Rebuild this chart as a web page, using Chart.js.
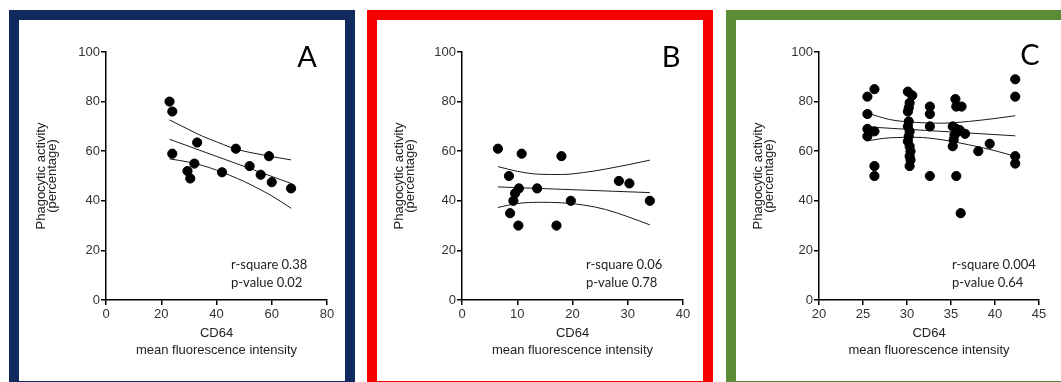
<!DOCTYPE html>
<html>
<head>
<meta charset="utf-8">
<script src="https://cdn.jsdelivr.net/npm/chart.js@4.4.1/dist/chart.umd.min.js"></script>
<style>
  html, body { margin: 0; padding: 0; background: #fff; }
  body { width: 1061px; height: 382px; overflow: hidden; position: relative; }
  .panel { position: absolute; top: 10px; width: 326px; height: 361px; border: 10px solid; background: #fff; }
  .panel canvas { display: block; }
</style>
</head>
<body>
<div class="panel" style="left:9px; border-color:#102a5e"><canvas id="chartA" width="326" height="361"></canvas></div>
<div class="panel" style="left:367px; border-color:#f60000"><canvas id="chartB" width="326" height="361"></canvas></div>
<div class="panel" style="left:726px; border-color:#5b8c36"><canvas id="chartC" width="326" height="361"></canvas></div>
<script>
// Panel A
const aCd64  = [23, 24, 24, 33, 32, 29.5, 30.5, 42, 47, 52, 59, 56, 60, 67];
const aPhago = [80, 76, 59, 63.5, 55, 52, 49, 51.5, 61, 54, 58, 50.5, 47.5, 45];
const aFitX  = [23, 67];
const aFitY  = [64.8, 47];
const aBandX = [23, 30, 35, 40, 45, 50, 55, 60, 67];
const aUpper = [72.6, 68.7, 66, 63.8, 61.6, 60, 58.9, 57.8, 56.5];
const aLower = [56.9, 55.6, 54.2, 52.4, 50.2, 47.8, 45, 42, 37];
const aXAxis = [0, 80, 20];
const aStats = ['r-square 0.38', 'p-value 0.02'];

// Panel B
const bCd64  = [6.5, 10.8, 18, 8.5, 10.3, 9.6, 9.3, 13.6, 8.7, 10.2, 17.1, 19.7, 28.4, 30.3, 34];
const bPhago = [61, 59, 58, 50, 45, 43, 40, 45, 35, 30, 30, 40, 48, 47, 40];
const bFitX  = [6.5, 34];
const bFitY  = [45.6, 43.3];
const bBandX = [6.5, 10, 14, 18, 22, 26, 30, 34];
const bUpper = [53.8, 51.9, 50.7, 50.6, 51.4, 52.8, 54.5, 56.4];
const bLower = [37.3, 38.9, 39.4, 39.2, 38.3, 36.5, 33.6, 30.3];
const bXAxis = [0, 40, 10];
const bStats = ['r-square 0.06', 'p-value 0.78'];

// Panel C
const cCd64  = [25.5, 25.5, 25.5, 25.5, 26.3, 26.3, 26.3, 26.3,
  30.1, 30.6, 30.3, 30.2, 30.1, 30.2, 30.1, 30.3, 30.2, 30.1, 30.3, 30.4, 30.3, 30.4, 30.3,
  32.6, 32.6, 32.6, 32.6,
  35.5, 35.6, 36.2, 35.2, 35.6, 36.0, 35.8, 35.4, 35.3, 35.2, 35.6, 36.1, 36.6,
  38.1, 39.4, 42.3, 42.3, 42.3, 42.3];
const cPhago = [82, 75, 69, 66, 85, 68, 54, 50,
  84, 82.5, 79.5, 77.5, 76, 72, 70, 68, 66, 64, 62, 60, 58, 56.5, 54,
  78, 75, 70, 50,
  81, 78, 78, 70, 69, 68.5, 68, 66.5, 64.5, 62, 50, 35, 67,
  60, 63, 89, 82, 58, 55];
const cFitX  = [25.5, 42.3];
const cFitY  = [69.8, 66.2];
const cBandX = [25.5, 28, 31, 34, 37, 40, 42.3];
const cUpper = [75.4, 72.8, 71.6, 71.3, 72.0, 73.2, 74.3];
const cLower = [64.2, 65.4, 65.6, 64.6, 62.6, 60.2, 57.9];
const cXAxis = [20, 45, 5];
const cStats = ['r-square 0.004', 'p-value 0.64'];

const yAxis = [0, 100, 20];

function pairs(xs, ys) {
  return xs.map((v, i) => ({x: v, y: ys[i]}));
}

// letter + r-square / p-value text
const panelText = {
  id: 'panelText',
  afterDatasetsDraw(chart, args, opts) {
    const {ctx, chartArea} = chart;
    ctx.save();
    ctx.fillStyle = '#000';
    ctx.font = '29px Lato';
    ctx.textAlign = 'center';
    ctx.textBaseline = 'middle';
    ctx.fillText(opts.letter, chartArea.right + opts.letterDx, chartArea.top + opts.letterDy);
    ctx.font = '13px Lato';
    ctx.fillStyle = '#222';
    ctx.textAlign = 'left';
    opts.stats.forEach((t, i) => {
      ctx.fillText(t, chartArea.left + opts.statsDx, chartArea.bottom - 35 + i * 18);
    });
    ctx.restore();
  }
};

function lineSet(xs, ys) {
  return {
    type: 'line',
    data: pairs(xs, ys),
    borderColor: '#1a1a1a',
    borderWidth: 1,
    pointRadius: 0,
    fill: false,
    cubicInterpolationMode: 'monotone',
    order: 1
  };
}

function buildPanel(id, p) {
  const tickFont = {family: "'Liberation Sans', Arial, sans-serif", size: 13};
  const axisGrid = {display: true, drawOnChartArea: false, drawTicks: true, tickLength: 5, color: '#000', lineWidth: 1.5};
  new Chart(document.getElementById(id), {
    type: 'scatter',
    data: {
      datasets: [
        {
          data: pairs(p.x, p.y),
          backgroundColor: '#000',
          borderColor: '#000',
          pointRadius: 4.6,
          pointHoverRadius: 4.6,
          order: 0
        },
        lineSet(p.fitX, p.fitY),
        lineSet(p.bandX, p.upper),
        lineSet(p.bandX, p.lower)
      ]
    },
    options: {
      responsive: false,
      animation: false,
      events: [],
      layout: {padding: {left: 0, right: p.padRight, top: 32, bottom: 0}},
      plugins: {
        legend: {display: false},
        tooltip: {enabled: false},
        panelText: {letter: p.letter, letterDx: p.letterDx, letterDy: p.letterDy, stats: p.stats, statsDx: p.statsDx}
      },
      scales: {
        x: {
          type: 'linear',
          min: p.xAxis[0], max: p.xAxis[1],
          ticks: {stepSize: p.xAxis[2], color: '#333', font: tickFont, padding: 2},
          grid: axisGrid,
          border: {display: true, color: '#000', width: 1.5},
          title: {
            display: true,
            text: ['CD64', 'mean fluorescence intensity'],
            color: '#222',
            font: {family: "'Liberation Sans', Arial, sans-serif", size: 13, lineHeight: '17px'},
            padding: {top: 0, bottom: 22}
          },
          afterFit: s => { s.height = 81; }
        },
        y: {
          type: 'linear',
          min: yAxis[0], max: yAxis[1],
          ticks: {stepSize: yAxis[2], color: '#333', font: tickFont, padding: 1},
          grid: axisGrid,
          border: {display: true, color: '#000', width: 1.5},
          title: {
            display: true,
            text: ['Phagocytic activity', '(percentage)'],
            color: '#222',
            font: {family: "'Liberation Sans', Arial, sans-serif", size: 13, lineHeight: '11px'},
            padding: {top: 17, bottom: 0}
          },
          afterFit: s => { s.width = p.leftW; }
        }
      }
    },
    plugins: [panelText]
  });
}

buildPanel('chartA', {
  x: aCd64, y: aPhago, fitX: aFitX, fitY: aFitY, bandX: aBandX, upper: aUpper, lower: aLower,
  xAxis: aXAxis, stats: aStats, letter: 'A',
  leftW: 87, padRight: 18, letterDx: -20, letterDy: 6, statsDx: 125
});
buildPanel('chartB', {
  x: bCd64, y: bPhago, fitX: bFitX, fitY: bFitY, bandX: bBandX, upper: bUpper, lower: bLower,
  xAxis: bXAxis, stats: bStats, letter: 'B',
  leftW: 85, padRight: 20, letterDx: -12, letterDy: 6, statsDx: 124
});
buildPanel('chartC', {
  x: cCd64, y: cPhago, fitX: cFitX, fitY: cFitY, bandX: cBandX, upper: cUpper, lower: cLower,
  xAxis: cXAxis, stats: cStats, letter: 'C',
  leftW: 83, padRight: 23, letterDx: -9, letterDy: 4, statsDx: 133
});
</script>
</body>
</html>
